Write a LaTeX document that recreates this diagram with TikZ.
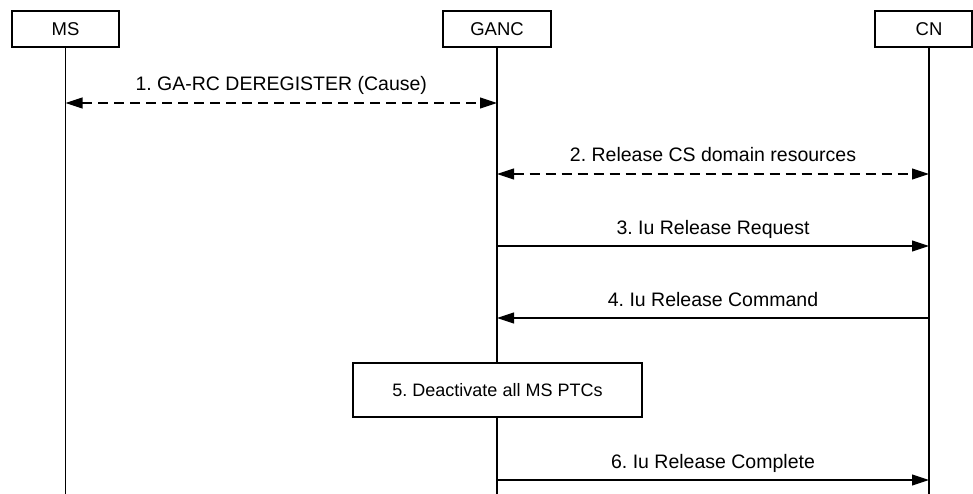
\documentclass[tikz,border=0pt]{standalone}
\usepackage{fontspec}
\setmainfont{Liberation Sans}
\usetikzlibrary{arrows.meta}
\frenchspacing
\begin{document}
\begin{tikzpicture}[x=1pt,y=-1pt,
  ent/.style={draw, line width=1.1pt, minimum height=36pt, font=\fontsize{18.5}{21}\selectfont, inner sep=0pt},
  life/.style={line width=1.1pt},
  tip/.tip={Triangle[length=17pt,width=11pt]},
  msg/.style={line width=1.1pt, -tip},
  dmsg/.style={line width=1.1pt, tip-tip, dash pattern=on 10pt off 6pt},
  lbl/.style={anchor=base, font=\fontsize{19.5}{23}\selectfont, inner sep=0pt},
  actbox/.style={draw, fill=white, line width=1.1pt, minimum width=289pt, minimum height=54pt, font=\fontsize{18}{21}\selectfont, inner sep=0pt}]
\useasboundingbox (0,0) rectangle (973,494);
% entities
\node[ent, minimum width=107pt] (ms) at (65.5,29) {MS};
\node[ent, minimum width=108pt] (ganc) at (497,29) {GANC};
\node[ent, minimum width=97pt] (cn) at (923.5,29) {\hspace*{11pt}CN};
% lifeline ends
\coordinate (msT) at (65.5,47);   \coordinate (msB) at (65.5,494);
\coordinate (gT) at (497,47);     \coordinate (gB) at (497,494);
\coordinate (cnT) at (929,47);    \coordinate (cnB) at (929,494);
\draw[life] (msT) -- (msB);
\draw[life] (gT) -- (gB);
\draw[life] (cnT) -- (cnB);
% message end points
\coordinate (ms1) at (65.5,103); \coordinate (g1) at (497,103);
\coordinate (g2) at (497,174);   \coordinate (cn2) at (929,174);
\coordinate (g3) at (497,246);   \coordinate (cn3) at (929,246);
\coordinate (g4) at (497,318);   \coordinate (cn4) at (929,318);
\coordinate (g6) at (497,480);   \coordinate (cn6) at (929,480);
% messages
\draw[dmsg] (ms1) -- node[lbl, above=12pt, anchor=base] (l1) {1. GA-RC DEREGISTER (Cause)} (g1);
\draw[dmsg] (g2) -- node[lbl, above=12pt, anchor=base] (l2) {2. Release CS domain resources} (cn2);
\draw[msg] (g3) -- node[lbl, above=12pt, anchor=base] (l3) {3. Iu Release Request} (cn3);
\draw[msg] (cn4) -- node[lbl, above=12pt, anchor=base] (l4) {4. Iu Release Command} (g4);
\node[actbox] (act) at (497.5,390) {5. Deactivate all MS PTCs};
\draw[msg] (g6) -- node[lbl, above=12pt, anchor=base] (l6) {6. Iu Release Complete} (cn6);
\end{tikzpicture}
\end{document}
